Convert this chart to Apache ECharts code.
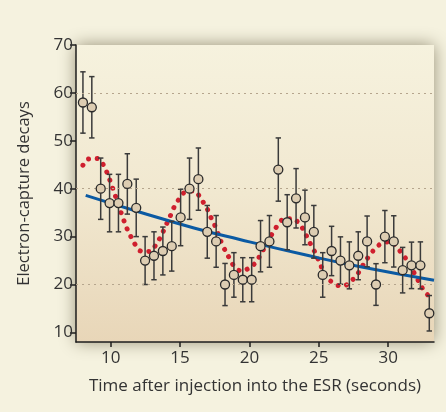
<!DOCTYPE html>
<html>
<head>
<meta charset="utf-8">
<script src="https://cdn.jsdelivr.net/npm/echarts@6/dist/echarts.min.js"></script>
<style>
html,body{margin:0;padding:0;background:#f5f2df;}
#c{width:446px;height:412px;}
</style>
</head>
<body>
<div id="c"></div>
<script>
// Measured data points (time in s, counts, error half-width)
var times = [8.00, 8.64, 9.28, 9.92, 10.56, 11.20, 11.84, 12.48, 13.12, 13.76,
             14.40, 15.04, 15.68, 16.32, 16.96, 17.60, 18.24, 18.88, 19.52, 20.16,
             20.80, 21.44, 22.08, 22.72, 23.36, 24.00, 24.64, 25.28, 25.92, 26.56,
             27.20, 27.84, 28.48, 29.12, 29.76, 30.40, 31.04, 31.68, 32.32, 32.96];
var counts = [58, 57, 40, 37, 37, 41, 36, 25, 26, 27,
              28, 34, 40, 42, 31, 29, 20, 22, 21, 21,
              28, 29, 44, 33, 38, 34, 31, 22, 27, 25,
              24, 26, 29, 20, 30, 29, 23, 24, 24, 14];
var errors = [6.4, 6.4, 6.4, 6.0, 6.0, 6.3, 6.0, 5.0, 5.0, 5.0,
              5.2, 5.9, 6.4, 6.5, 5.5, 5.4, 4.4, 4.65, 4.6, 4.6,
              5.35, 5.4, 6.6, 5.75, 6.2, 5.7, 5.5, 4.65, 5.15, 4.95,
              4.9, 5.0, 5.3, 4.35, 5.45, 5.35, 4.75, 4.85, 4.9, 3.7];

// Exponential fit (blue)
var fitX = [8.2, 12, 16, 19.3, 24, 28, 33.3];
var fitY = [38.6, 35.2, 31.8, 29.4, 26.2, 23.7, 20.9];

// Oscillating fit (red dotted)
var oscX = [8.0, 8.4, 9.0, 9.47, 9.73, 9.95, 10.17, 10.36, 10.77, 11.2, 11.47, 11.78, 12.26, 12.74,
            13.27, 13.58, 13.87, 14.1, 14.37, 14.63, 14.95, 15.38, 15.98, 16.41, 16.72, 17.04, 17.3,
            17.56, 18.02, 18.57, 18.91, 19.45, 20.0, 20.45, 20.8, 21.1, 21.4, 21.7, 22.05, 22.5, 23.1,
            23.6, 23.95, 24.2, 24.5, 24.8, 25.04, 25.3, 25.6, 26.1, 26.7, 27.2, 27.65, 28.0, 28.3,
            28.7, 29.1, 29.6, 30.15, 30.6, 31.0, 31.4, 31.7, 32.0, 32.3, 32.6, 33.05];
var oscY = [44.9, 46.2, 46.3, 45.0, 43.4, 41.7, 39.9, 38.3, 34.8, 31.5, 29.9, 28.3, 26.9, 26.9,
            28.3, 29.9, 31.6, 33.1, 34.8, 36.5, 37.9, 39.3, 39.5, 38.4, 36.9, 35.3, 33.5,
            32.0, 28.5, 25.4, 23.8, 22.8, 23.5, 24.6, 26.25, 27.8, 29.4, 30.9, 32.4, 33.7, 33.75,
            32.6, 31.1, 29.6, 27.9, 26.3, 24.6, 23.0, 21.5, 20.2, 19.65, 20.4, 21.7, 23.1, 24.6,
            26.25, 27.6, 28.7, 28.9, 27.9, 26.4, 24.9, 23.3, 21.7, 20.1, 18.6, 17.3];

var xTicks = [10, 15, 20, 25, 30];
var yTicks = [10, 20, 30, 40, 50, 60, 70];
var gridLevels = [20, 40, 60];

var FONT = 'Open Sans';

function zip(a, b) { return a.map(function (v, i) { return [v, b[i]]; }); }
var pointData = zip(times, counts);
var barData = times.map(function (t, i) { return [t, counts[i] - errors[i], counts[i] + errors[i]]; });

var chart = echarts.init(document.getElementById('c'), null, {renderer: 'canvas'});
chart.setOption({
  backgroundColor: '#f5f2df',
  animation: false,
  grid: {
    left: 76, right: 12, top: 45, bottom: 70,
    show: true,
    borderWidth: 0,
    backgroundColor: {
      type: 'linear', x: 0, y: 0, x2: 0, y2: 1,
      colorStops: [{offset: 0, color: '#f6f2de'}, {offset: 0.5, color: '#f1e8d0'}, {offset: 1, color: '#e8d6b8'}]
    },
    shadowBlur: 16,
    shadowColor: 'rgba(70,60,30,0.55)'
  },
  xAxis: {
    type: 'value', min: 7.5, max: 33.3,
    name: 'Time after injection into the ESR (seconds)',
    nameLocation: 'middle', nameGap: 36,
    nameTextStyle: {fontFamily: FONT, fontSize: 17, color: '#333'},
    axisLine: {show: true, onZero: false, lineStyle: {color: '#1e1e1e', width: 1.5}},
    axisTick: {show: true, length: 5, customValues: xTicks, lineStyle: {color: '#1e1e1e', width: 1.5}},
    axisLabel: {customValues: xTicks, fontFamily: FONT, fontSize: 17, color: '#333', margin: 8},
    splitLine: {show: false}
  },
  yAxis: {
    type: 'value', min: 8, max: 70,
    name: 'Electron-capture decays',
    nameLocation: 'middle', nameGap: 43,
    nameTextStyle: {fontFamily: FONT, fontSize: 16.5, color: '#333'},
    axisLine: {show: true, onZero: false, lineStyle: {color: '#1e1e1e', width: 1.5}},
    axisTick: {show: true, length: 6, customValues: yTicks, lineStyle: {color: '#1e1e1e', width: 1.5}},
    axisLabel: {customValues: yTicks, fontFamily: FONT, fontSize: 17, color: '#333', margin: 3},
    splitLine: {show: false}
  },
  series: [
    {
      type: 'line',
      data: zip(oscX, oscY),
      smooth: 0.4,
      symbol: 'none',
      z: 2,
      lineStyle: {color: '#cf1f2e', width: 5, type: [0.01, 8.6], cap: 'round'},
      markLine: {
        silent: true, symbol: 'none', label: {show: false},
        lineStyle: {color: '#b5a58d', width: 1.2, type: [2, 4]},
        data: gridLevels.map(function (v) { return {yAxis: v}; })
      }
    },
    {
      type: 'line',
      data: zip(fitX, fitY),
      smooth: true,
      symbol: 'none',
      z: 3,
      lineStyle: {color: '#0b5aa3', width: 3}
    },
    {
      type: 'custom',
      z: 4,
      data: barData,
      renderItem: function (params, api) {
        var x = api.value(0);
        var lo = api.coord([x, api.value(1)]);
        var hi = api.coord([x, api.value(2)]);
        var hw = 2.7;
        var st = {stroke: '#3a3a3a', lineWidth: 1.5};
        return {
          type: 'group',
          children: [
            {type: 'line', shape: {x1: lo[0], y1: lo[1], x2: hi[0], y2: hi[1]}, style: st},
            {type: 'line', shape: {x1: lo[0] - hw, y1: lo[1], x2: lo[0] + hw, y2: lo[1]}, style: st},
            {type: 'line', shape: {x1: hi[0] - hw, y1: hi[1], x2: hi[0] + hw, y2: hi[1]}, style: st}
          ]
        };
      }
    },
    {
      type: 'scatter',
      z: 5,
      data: pointData,
      symbol: 'circle',
      symbolSize: 9,
      itemStyle: {color: '#ddcdb2', borderColor: '#2a2a2a', borderWidth: 1.3, opacity: 1}
    }
  ]
});
</script>
</body>
</html>
